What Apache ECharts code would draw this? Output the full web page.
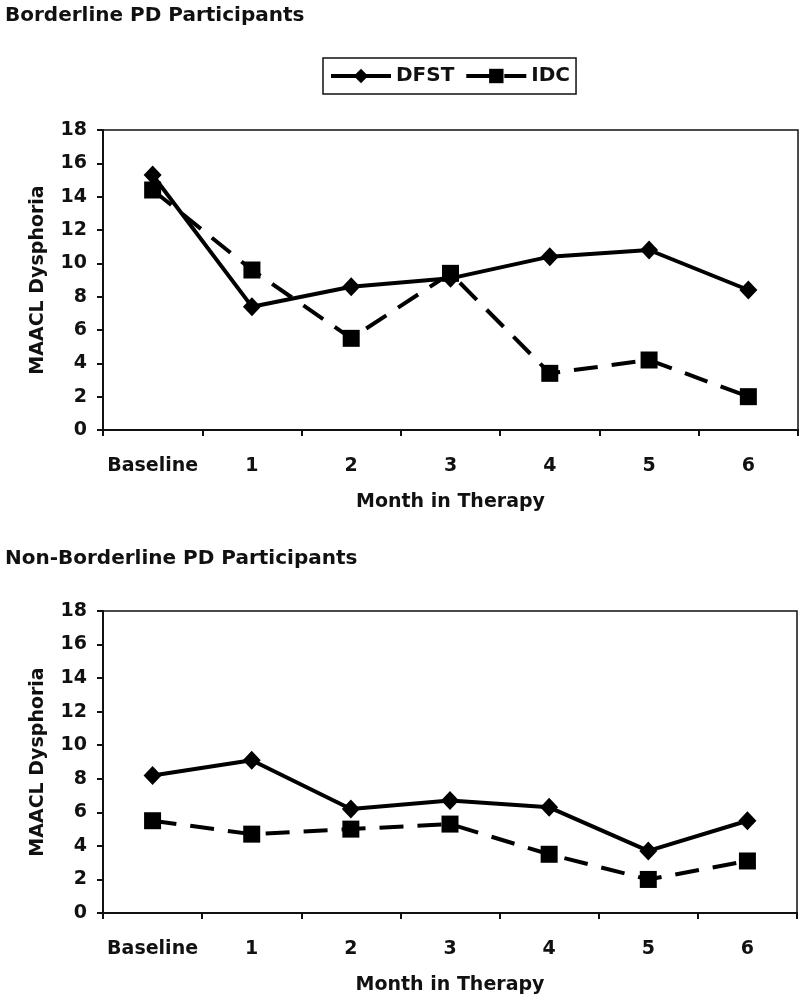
<!DOCTYPE html>
<html><head><meta charset="utf-8">
<script src="https://cdn.jsdelivr.net/npm/echarts@6/dist/echarts.min.js"></script>
<style>html,body{margin:0;padding:0;background:#fff}#c{width:800px;height:998px}</style>
</head><body><div id="c"></div>
<script>
const categories = ['Baseline', '1', '2', '3', '4', '5', '6'];
const borderlineDFST = [15.3, 7.4, 8.6, 9.1, 10.4, 10.8, 8.4];
const borderlineIDC = [14.4, 9.6, 5.5, 9.4, 3.4, 4.2, 2.0];
const nonBorderlineDFST = [8.2, 9.1, 6.2, 6.7, 6.3, 3.7, 5.5];
const nonBorderlineIDC = [5.5, 4.7, 5.0, 5.3, 3.5, 2.0, 3.1];
const yTicks = { min: 0, max: 18, interval: 2 };
const titles = ['Borderline PD Participants', 'Non-Borderline PD Participants'];
const xName = 'Month in Therapy';
const yName = 'MAACL Dysphoria';

const FONT = 'DejaVu Sans';
const chart = echarts.init(document.getElementById('c'), null, { renderer: 'canvas' });

const grids = [
  { left: 103, right: 2, top: 130, height: 300 },
  { left: 103, right: 3, top: 611, height: 302 }
];

function xAxis(i) {
  return {
    type: 'category', gridIndex: i, data: categories, boundaryGap: true,
    axisLine: { lineStyle: { color: '#111', width: 2 } },
    axisTick: { show: true, interval: 0, length: 6, lineStyle: { color: '#111', width: 2 } },
    axisLabel: { interval: 0, color: '#111', fontFamily: FONT, fontWeight: 'bold', fontSize: 19, margin: 27 },
    name: xName, nameLocation: 'middle', nameGap: 63,
    nameTextStyle: { color: '#111', fontFamily: FONT, fontWeight: 'bold', fontSize: 19 }
  };
}
function yAxis(i) {
  return {
    type: 'value', gridIndex: i, min: yTicks.min, max: yTicks.max, interval: yTicks.interval,
    axisLine: { show: true, lineStyle: { color: '#111', width: 2 } },
    axisTick: { show: true, length: 6, lineStyle: { color: '#111', width: 2 } },
    splitLine: { show: false },
    axisLabel: { color: '#111', fontFamily: FONT, fontWeight: 'bold', fontSize: 19, margin: 16 },
    name: yName, nameLocation: 'middle', nameGap: 55, nameRotate: 90,
    nameTextStyle: { color: '#111', fontFamily: FONT, fontWeight: 'bold', fontSize: 19 }
  };
}
function dfst(i, data) {
  return {
    name: 'DFST', type: 'line', xAxisIndex: i, yAxisIndex: i, data: data,
    symbol: 'diamond', symbolSize: [18, 19], showSymbol: true,
    itemStyle: { color: '#000' },
    lineStyle: { color: '#000', width: 4 },
    z: 3, silent: true, animation: false
  };
}
function idc(i, data) {
  return {
    name: 'IDC', type: 'line', xAxisIndex: i, yAxisIndex: i, data: data,
    symbol: 'rect', symbolSize: 17, showSymbol: true,
    itemStyle: { color: '#000' },
    lineStyle: { color: '#000', width: 4, type: [24, 14] },
    z: 2, silent: true, animation: false
  };
}

chart.setOption({
  animation: false,
  backgroundColor: '#fff',
  title: [
    { text: titles[0], left: 0, top: 1, textStyle: { color: '#111', fontFamily: FONT, fontWeight: 'bold', fontSize: 20 } },
    { text: titles[1], left: 0, top: 544, textStyle: { color: '#111', fontFamily: FONT, fontWeight: 'bold', fontSize: 20 } }
  ],
  legend: {
    left: 323, top: 58, width: 254,
    data: ['DFST', 'IDC'],
    itemWidth: 60, itemHeight: 18, itemGap: 10,
    padding: [8, 6, 8, 6],
    borderColor: '#111', borderWidth: 1.5,
    lineStyle: { width: 4 },
    textStyle: { color: '#111', fontFamily: FONT, fontWeight: 'bold', fontSize: 20 }
  },
  grid: grids.map(g => Object.assign({ show: true, borderColor: '#111', borderWidth: 1.5, backgroundColor: 'transparent' }, g)),
  xAxis: [xAxis(0), xAxis(1)],
  yAxis: [yAxis(0), yAxis(1)],
  series: [
    dfst(0, borderlineDFST), idc(0, borderlineIDC),
    dfst(1, nonBorderlineDFST), idc(1, nonBorderlineIDC)
  ]
});
</script>
</body></html>
